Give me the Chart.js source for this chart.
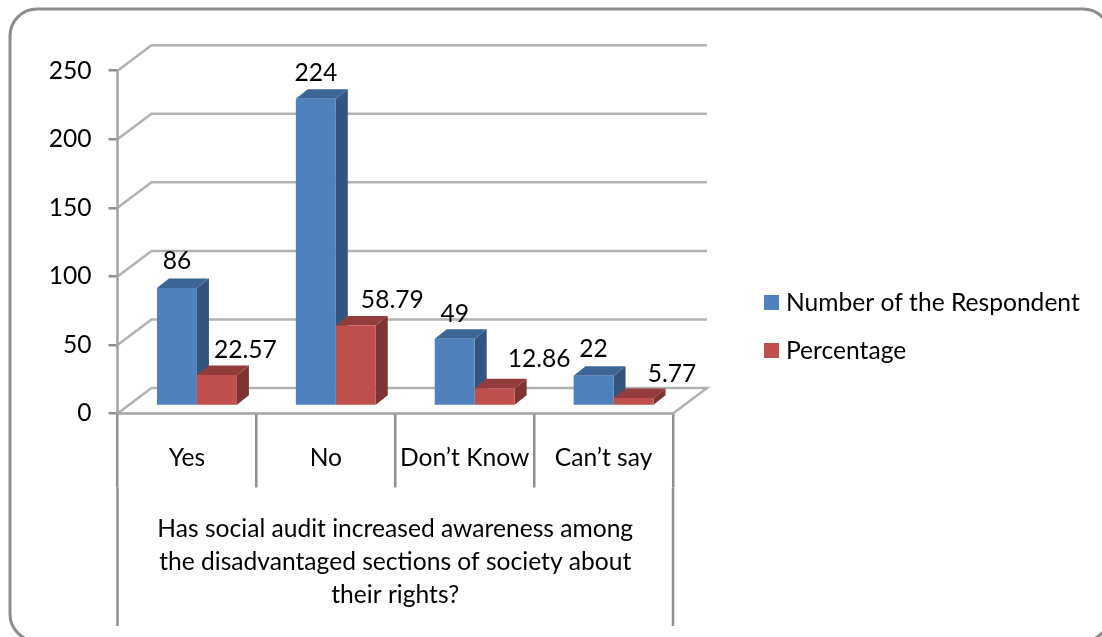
<!DOCTYPE html>
<html><head><meta charset="utf-8">
<style>html,body{margin:0;padding:0;background:#fff}canvas{display:block;filter:blur(0.35px)}</style>
<script src="https://cdn.jsdelivr.net/npm/chart.js@4"></script>
</head><body><canvas id="c" width="1102" height="637"></canvas>
<script>
const categories = ["Yes", "No", "Don’t Know", "Can’t say"];
const respondents = [86, 224, 49, 22];
const percentages = [22.57, 58.79, 12.86, 5.77];
const seriesNames = ["Number of the Respondent", "Percentage"];
const axisTitleLines = ["Has social audit increased awareness among", "the disadvantaged sections of society about", "their rights?"];
const FONT = "Lato";
const FS = 24.6;
const GRID = "#b2b2b2", AXIS = "#a3a3a3", TICK = "#8f8f8f";
const WALL = {dx: 34, dy: -25.5};
const BAR = {dx: 10, dy: -7.5, sx: 12, sy: -9.5};
const shades = [
  {front: "#4f81bd", side: "#33557f", top: "#3c6695"},
  {front: "#c0504d", side: "#7e3432", top: "#923d3b"}
];
const labelShift = [[0, 0, 0, 0], [28.5, 36.5, 44.5, 38.5]];
const labelLift = [[0, 1, 2, 0], [2, 2, -2, 3]];

function poly(ctx, pts, fill) {
  ctx.beginPath();
  pts.forEach((p, i) => i ? ctx.lineTo(p[0], p[1]) : ctx.moveTo(p[0], p[1]));
  ctx.closePath();
  ctx.fillStyle = fill;
  ctx.fill();
}

const frame = {
  id: "frame",
  beforeDraw(chart) {
    const ctx = chart.ctx;
    ctx.save();
    ctx.fillStyle = "#fff";
    ctx.fillRect(0, 0, chart.width, chart.height);
    ctx.strokeStyle = "#8c8c8c";
    ctx.lineWidth = 3;
    ctx.beginPath();
    ctx.roundRect(10, 9, 1100, 632, 27);
    ctx.stroke();
    ctx.restore();
  }
};

const walls = {
  id: "walls",
  beforeDatasetsDraw(chart) {
    const ctx = chart.ctx, y = chart.scales.y, x = chart.scales.x;
    ctx.save();
    ctx.lineWidth = 2.5;
    ctx.lineJoin = "miter";
    ctx.strokeStyle = GRID;
    y.ticks.forEach(t => {
      const py = y.getPixelForValue(t.value);
      ctx.beginPath();
      ctx.moveTo(x.left, py);
      ctx.lineTo(x.left + WALL.dx, py + WALL.dy);
      ctx.lineTo(x.right + WALL.dx, py + WALL.dy);
      if (t.value === 0) {
        ctx.lineTo(x.right, py);
      }
      ctx.stroke();
    });
    ctx.strokeStyle = AXIS;
    const y0 = y.getPixelForValue(0);
    ctx.beginPath();
    ctx.moveTo(x.left, y0);
    ctx.lineTo(x.right, y0);
    ctx.stroke();
    ctx.beginPath();
    ctx.moveTo(x.left, y.top);
    ctx.lineTo(x.left, y0);
    ctx.stroke();
    ctx.restore();
    ctx.save();
    chart.data.datasets.forEach((d, di) => {
      chart.getDatasetMeta(di).data.forEach(el => {
        const l = el.x - el.width / 2 + BAR.dx, r = el.x + el.width / 2 + BAR.dx;
        const t = el.y + BAR.dy, b = el.base + BAR.dy;
        poly(ctx, [[r, t], [r + BAR.sx, t + BAR.sy], [r + BAR.sx, b + BAR.sy], [r, b]], shades[di].side);
        poly(ctx, [[l, t], [l + BAR.sx, t + BAR.sy], [r + BAR.sx, t + BAR.sy], [r, t]], shades[di].top);
      });
    });
    ctx.restore();
    ctx.save();
    ctx.translate(BAR.dx, BAR.dy);
  },
  afterDatasetsDraw(chart) {
    chart.ctx.restore();
  }
};

const annotate = {
  id: "annotate",
  afterDraw(chart) {
    const ctx = chart.ctx, x = chart.scales.x, y = chart.scales.y;
    ctx.save();
    ctx.font = FS + "px " + FONT;
    ctx.fillStyle = "#000";
    ctx.textBaseline = "middle";
    ctx.textAlign = "center";
    chart.data.datasets.forEach((d, di) => {
      chart.getDatasetMeta(di).data.forEach((el, i) => {
        ctx.fillText(String(d.data[i]), el.x + BAR.dx + labelShift[di][i], el.y + BAR.dy - 27 + labelLift[di][i]);
      });
    });
    const cx = (x.left + x.right) / 2;
    axisTitleLines.forEach((s, i) => ctx.fillText(s, cx, 529 + i * 33));
    ctx.strokeStyle = TICK;
    ctx.lineWidth = 2.5;
    [x.left, x.right].forEach(px => {
      ctx.beginPath();
      ctx.moveTo(px, y.bottom + 74);
      ctx.lineTo(px, 626);
      ctx.stroke();
    });
    ctx.textAlign = "left";
    chart.data.datasets.forEach((d, di) => {
      const top = 295 + di * 48;
      ctx.fillStyle = shades[di].front;
      ctx.fillRect(764, top, 15, 15);
      ctx.fillStyle = "#000";
      ctx.fillText(d.label, 786, top + 8.5);
    });
    ctx.restore();
  }
};

new Chart(document.getElementById("c"), {
  type: "bar",
  data: {
    labels: categories,
    datasets: [
      {label: seriesNames[0], data: respondents, backgroundColor: shades[0].front},
      {label: seriesNames[1], data: percentages, backgroundColor: shades[1].front}
    ]
  },
  plugins: [frame, walls, annotate],
  options: {
    responsive: false,
    animation: false,
    events: [],
    layout: {padding: {left: 0, top: 70.7, right: 429, bottom: 0}},
    datasets: {bar: {categoryPercentage: 80 / 139, barPercentage: 1, borderWidth: 0}},
    plugins: {legend: {display: false}, title: {display: false}, tooltip: {enabled: false}},
    scales: {
      x: {
        afterFit(s) { s.height = 637 - 413.5; },
        offset: true,
        border: {display: false},
        grid: {offset: true, drawOnChartArea: false, drawTicks: true, tickLength: 74, color: TICK, lineWidth: 2.5},
        ticks: {font: {family: FONT, size: FS}, color: "#000", padding: -44, maxRotation: 0, autoSkip: false}
      },
      y: {
        min: 0, max: 250,
        afterFit(s) { s.width = 117.5; },
        border: {display: false},
        grid: {drawOnChartArea: false, drawTicks: true, tickLength: 9, color: TICK, lineWidth: 2.5},
        ticks: {stepSize: 50, font: {family: FONT, size: FS}, color: "#000", padding: 17}
      }
    }
  }
});
</script></body></html>
